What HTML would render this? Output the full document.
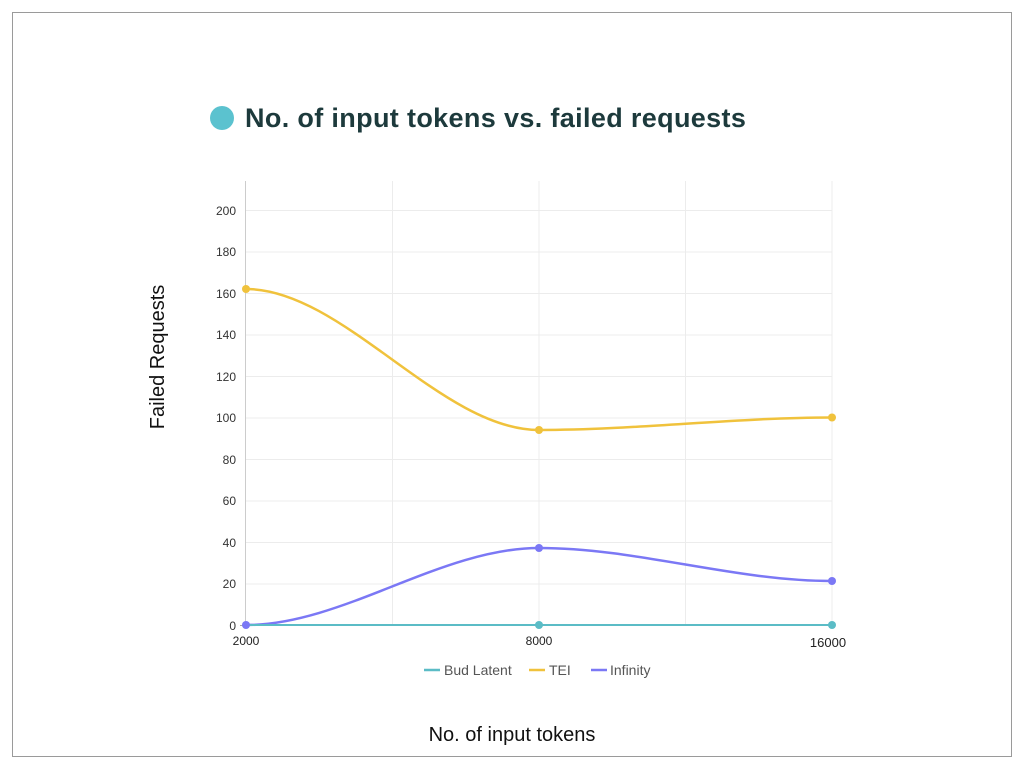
<!DOCTYPE html>
<html><head><meta charset="utf-8"><style>
body{margin:0;background:#fff;width:1024px;height:768px;overflow:hidden;font-family:"Liberation Sans",sans-serif}
</style></head><body>
<svg width="1024" height="768" viewBox="0 0 1024 768" xmlns="http://www.w3.org/2000/svg">
<rect x="12.5" y="12.5" width="999" height="744" fill="#fff" stroke="#9a9a9a" stroke-width="1"/>
<circle cx="222" cy="118" r="12" fill="#5bc2cf"/>
<text x="245" y="127" font-size="27" font-weight="bold" fill="#1d3a3c" letter-spacing="0.35" font-family="Liberation Sans, sans-serif">No. of input tokens vs. failed requests</text>
<g stroke="#ececec" stroke-width="1">
<line x1="246" y1="210.5" x2="832" y2="210.5"/><line x1="246" y1="252" x2="832" y2="252"/>
<line x1="246" y1="293.5" x2="832" y2="293.5"/><line x1="246" y1="335" x2="832" y2="335"/>
<line x1="246" y1="376.5" x2="832" y2="376.5"/><line x1="246" y1="418" x2="832" y2="418"/>
<line x1="246" y1="459.5" x2="832" y2="459.5"/><line x1="246" y1="501" x2="832" y2="501"/>
<line x1="246" y1="542.5" x2="832" y2="542.5"/><line x1="246" y1="584" x2="832" y2="584"/>
<line x1="392.5" y1="181" x2="392.5" y2="625"/><line x1="539" y1="181" x2="539" y2="625"/>
<line x1="685.5" y1="181" x2="685.5" y2="625"/><line x1="832" y1="181" x2="832" y2="625"/>
</g>
<line x1="245.5" y1="181" x2="245.5" y2="626" stroke="#ccc"/>
<line x1="240" y1="625.5" x2="832" y2="625.5" stroke="#aaa"/>
<g font-size="12" fill="#333" text-anchor="end">
<text x="236" y="215">200</text><text x="236" y="256">180</text><text x="236" y="298">160</text>
<text x="236" y="339">140</text><text x="236" y="381">120</text><text x="236" y="422">100</text>
<text x="236" y="464">80</text><text x="236" y="505">60</text><text x="236" y="547">40</text>
<text x="236" y="588">20</text><text x="236" y="630">0</text>
</g>
<g font-size="12" fill="#222" text-anchor="middle">
<text x="246" y="645">2000</text><text x="539" y="645">8000</text><text x="828" y="647" font-size="13">16000</text>
</g>
<path d="M246,289 C343,289 441,430 539,430 C637,430 734,417.5 832,417.5" fill="none" stroke="#f0c23c" stroke-width="2.5"/>
<path d="M246,625 C343,625 441,548 539,548 C637,548 734,581 832,581" fill="none" stroke="#7b78f5" stroke-width="2.5"/>
<line x1="246" y1="625" x2="832" y2="625" stroke="#5bbcc6" stroke-width="2"/>
<g fill="#f0c23c"><circle cx="246" cy="289" r="4"/><circle cx="539" cy="430" r="4"/><circle cx="832" cy="417.5" r="4"/></g>
<g fill="#7b78f5"><circle cx="246" cy="625" r="4"/><circle cx="539" cy="548" r="4"/><circle cx="832" cy="581" r="4"/></g>
<g fill="#5bbcc6"><circle cx="539" cy="625" r="4"/><circle cx="832" cy="625" r="4"/></g>
<g font-size="14" fill="#555">
<line x1="424" y1="670" x2="440" y2="670" stroke="#5bbcc6" stroke-width="2.5"/><text x="444" y="675">Bud Latent</text>
<line x1="529" y1="670" x2="545" y2="670" stroke="#f0c23c" stroke-width="2.5"/><text x="549" y="675">TEI</text>
<line x1="591" y1="670" x2="607" y2="670" stroke="#7b78f5" stroke-width="2.5"/><text x="610" y="675">Infinity</text>
</g>
<text transform="translate(164,357) rotate(-90)" font-size="20" fill="#111" text-anchor="middle">Failed Requests</text>
<text x="512" y="741" font-size="20" fill="#111" text-anchor="middle">No. of input tokens</text>
</svg>
</body></html>
